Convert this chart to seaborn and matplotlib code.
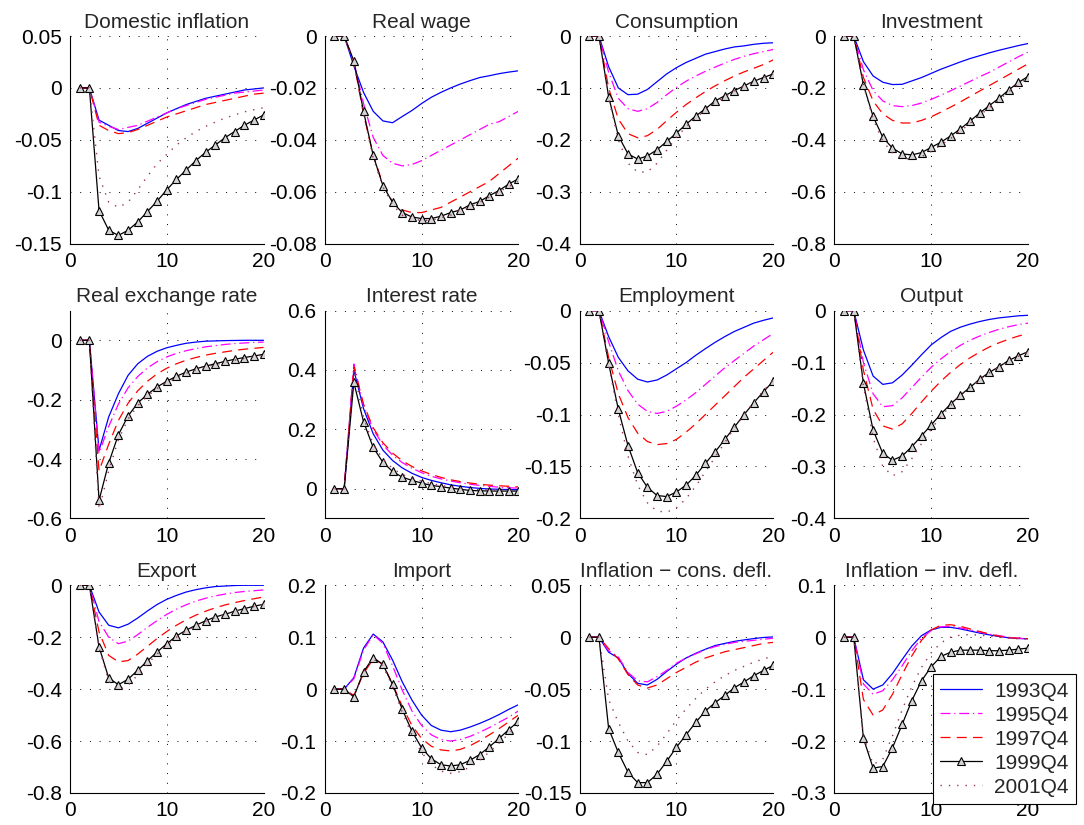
import matplotlib
matplotlib.use("Agg")
import matplotlib.pyplot as plt
import seaborn as sns

# ---------------- data (x = 1..20 quarters) ----------------
QUARTERS = list(range(1, 21))
SERIES_LABELS = ["1993Q4", "1995Q4", "1997Q4", "1999Q4", "2001Q4"]

TITLES = ["Domestic inflation", "Real wage", "Consumption", "Investment",
          "Real exchange rate", "Interest rate", "Employment", "Output",
          "Export", "Import", "Inflation \u2212 cons. defl.", "Inflation \u2212 inv. defl."]

DOMESTIC_INFLATION = [
    [0, 0, -0.031, -0.036, -0.041, -0.042, -0.039, -0.034, -0.029, -0.024, -0.020, -0.016, -0.013, -0.010, -0.008, -0.006, -0.004, -0.002, -0.001, 0.000],
    [0, 0, -0.033, -0.037, -0.040, -0.038, -0.036, -0.032, -0.028, -0.024, -0.020, -0.017, -0.014, -0.011, -0.009, -0.007, -0.005, -0.004, -0.003, -0.002],
    [0, 0, -0.036, -0.041, -0.044, -0.043, -0.040, -0.036, -0.032, -0.028, -0.025, -0.022, -0.019, -0.016, -0.014, -0.012, -0.010, -0.008, -0.006, -0.005],
    [0, 0, -0.118, -0.137, -0.142, -0.137, -0.129, -0.119, -0.109, -0.098, -0.088, -0.079, -0.070, -0.062, -0.055, -0.048, -0.042, -0.036, -0.031, -0.026],
    [0, 0, -0.085, -0.110, -0.115, -0.110, -0.098, -0.085, -0.073, -0.064, -0.055, -0.048, -0.042, -0.037, -0.033, -0.029, -0.026, -0.023, -0.021, -0.019],
]
REAL_WAGE = [
    [0, 0, -0.0115, -0.0217, -0.029, -0.0327, -0.0334, -0.031, -0.0287, -0.026, -0.0236, -0.0217, -0.020, -0.0185, -0.0172, -0.016, -0.0153, -0.0145, -0.0139, -0.0134],
    [0, 0, -0.010, -0.026, -0.039, -0.046, -0.049, -0.050, -0.0495, -0.048, -0.046, -0.044, -0.042, -0.040, -0.038, -0.036, -0.034, -0.033, -0.031, -0.029],
    [0, 0, -0.010, -0.030, -0.046, -0.057, -0.064, -0.067, -0.068, -0.068, -0.067, -0.066, -0.064, -0.062, -0.060, -0.058, -0.056, -0.053, -0.050, -0.047],
    [0, 0, -0.0096, -0.029, -0.046, -0.0576, -0.064, -0.068, -0.0697, -0.0703, -0.0703, -0.0694, -0.068, -0.067, -0.065, -0.0637, -0.0615, -0.0595, -0.057, -0.055],
    [0, 0, -0.010, -0.030, -0.047, -0.058, -0.065, -0.069, -0.0705, -0.071, -0.071, -0.070, -0.069, -0.067, -0.066, -0.064, -0.062, -0.060, -0.058, -0.056],
]
CONSUMPTION = [
    [0, 0, -0.059, -0.100, -0.113, -0.112, -0.103, -0.088, -0.073, -0.061, -0.051, -0.043, -0.035, -0.030, -0.025, -0.021, -0.019, -0.016, -0.014, -0.013],
    [0, 0, -0.070, -0.120, -0.140, -0.145, -0.140, -0.128, -0.113, -0.099, -0.087, -0.077, -0.068, -0.060, -0.052, -0.045, -0.039, -0.034, -0.030, -0.026],
    [0, 0, -0.100, -0.160, -0.188, -0.196, -0.192, -0.180, -0.163, -0.147, -0.132, -0.119, -0.107, -0.096, -0.086, -0.077, -0.069, -0.062, -0.055, -0.046],
    [0, 0, -0.117, -0.192, -0.227, -0.237, -0.231, -0.219, -0.203, -0.187, -0.170, -0.154, -0.140, -0.125, -0.115, -0.105, -0.096, -0.087, -0.080, -0.073],
    [0, 0, -0.120, -0.200, -0.245, -0.262, -0.262, -0.245, -0.220, -0.195, -0.175, -0.158, -0.142, -0.128, -0.117, -0.106, -0.096, -0.087, -0.080, -0.074],
]
INVESTMENT = [
    [0, 0, -0.099, -0.154, -0.178, -0.187, -0.186, -0.173, -0.160, -0.144, -0.128, -0.114, -0.100, -0.087, -0.076, -0.065, -0.055, -0.046, -0.037, -0.029],
    [0, 0, -0.130, -0.210, -0.250, -0.268, -0.272, -0.268, -0.258, -0.244, -0.228, -0.211, -0.193, -0.175, -0.157, -0.140, -0.120, -0.100, -0.080, -0.062],
    [0, 0, -0.160, -0.250, -0.300, -0.325, -0.335, -0.335, -0.325, -0.311, -0.293, -0.274, -0.254, -0.233, -0.212, -0.191, -0.170, -0.149, -0.128, -0.107],
    [0, 0, -0.188, -0.310, -0.390, -0.432, -0.454, -0.458, -0.449, -0.429, -0.409, -0.385, -0.358, -0.328, -0.297, -0.268, -0.240, -0.208, -0.179, -0.156],
    [0, 0, -0.190, -0.320, -0.405, -0.450, -0.470, -0.475, -0.465, -0.445, -0.420, -0.395, -0.367, -0.337, -0.306, -0.276, -0.246, -0.215, -0.186, -0.160],
]
REAL_EXCHANGE_RATE = [
    [0, 0, -0.371, -0.258, -0.180, -0.118, -0.079, -0.054, -0.037, -0.025, -0.017, -0.010, -0.006, -0.003, -0.002, -0.001, -0.0005, 0.000, 0.000, 0.000],
    [0, 0, -0.380, -0.290, -0.215, -0.160, -0.122, -0.093, -0.072, -0.056, -0.044, -0.035, -0.028, -0.022, -0.018, -0.014, -0.011, -0.009, -0.007, -0.006],
    [0, 0, -0.440, -0.350, -0.270, -0.212, -0.170, -0.138, -0.113, -0.094, -0.079, -0.067, -0.058, -0.050, -0.044, -0.039, -0.034, -0.030, -0.027, -0.024],
    [0, 0, -0.539, -0.413, -0.318, -0.255, -0.211, -0.182, -0.157, -0.138, -0.121, -0.107, -0.096, -0.087, -0.079, -0.071, -0.064, -0.058, -0.053, -0.047],
    [0, 0, -0.570, -0.440, -0.335, -0.265, -0.220, -0.188, -0.162, -0.142, -0.125, -0.111, -0.100, -0.090, -0.082, -0.074, -0.067, -0.061, -0.055, -0.050],
]
INTEREST_RATE = [
    [0, 0, 0.400, 0.270, 0.185, 0.130, 0.095, 0.070, 0.052, 0.038, 0.028, 0.020, 0.013, 0.008, 0.004, 0.001, -0.001, -0.002, -0.003, -0.003],
    [0, 0, 0.420, 0.280, 0.200, 0.148, 0.113, 0.088, 0.069, 0.054, 0.042, 0.033, 0.026, 0.020, 0.015, 0.011, 0.008, 0.005, 0.003, 0.002],
    [0, 0, 0.410, 0.285, 0.205, 0.155, 0.120, 0.094, 0.075, 0.060, 0.048, 0.038, 0.030, 0.024, 0.019, 0.015, 0.012, 0.010, 0.008, 0.006],
    [0, 0, 0.358, 0.226, 0.139, 0.089, 0.058, 0.039, 0.028, 0.019, 0.011, 0.007, 0.002, -0.002, -0.006, -0.007, -0.008, -0.008, -0.008, -0.008],
    [0, 0, 0.400, 0.240, 0.150, 0.100, 0.068, 0.048, 0.035, 0.025, 0.017, 0.011, 0.006, 0.002, -0.001, -0.003, -0.004, -0.005, -0.005, -0.005],
]
EMPLOYMENT = [
    [0, 0, -0.025, -0.045, -0.058, -0.066, -0.0687, -0.0668, -0.062, -0.056, -0.050, -0.043, -0.0366, -0.0305, -0.025, -0.020, -0.016, -0.012, -0.0093, -0.007],
    [0, 0, -0.030, -0.058, -0.077, -0.090, -0.097, -0.099, -0.097, -0.092, -0.086, -0.079, -0.071, -0.063, -0.055, -0.048, -0.041, -0.034, -0.028, -0.022],
    [0, 0, -0.045, -0.080, -0.103, -0.118, -0.126, -0.129, -0.128, -0.124, -0.117, -0.109, -0.100, -0.091, -0.082, -0.073, -0.064, -0.056, -0.048, -0.040],
    [0, 0, -0.0507, -0.095, -0.130, -0.156, -0.170, -0.178, -0.179, -0.1746, -0.168, -0.1586, -0.147, -0.136, -0.124, -0.112, -0.100, -0.0886, -0.078, -0.068],
    [0, 0, -0.052, -0.100, -0.140, -0.168, -0.185, -0.193, -0.194, -0.190, -0.181, -0.169, -0.155, -0.141, -0.127, -0.113, -0.100, -0.088, -0.077, -0.067],
]
OUTPUT = [
    [0, 0, -0.076, -0.126, -0.142, -0.139, -0.124, -0.105, -0.085, -0.066, -0.052, -0.040, -0.032, -0.026, -0.021, -0.017, -0.014, -0.012, -0.010, -0.009],
    [0, 0, -0.100, -0.160, -0.185, -0.183, -0.168, -0.148, -0.128, -0.109, -0.093, -0.079, -0.067, -0.057, -0.049, -0.042, -0.036, -0.031, -0.027, -0.024],
    [0, 0, -0.115, -0.190, -0.222, -0.228, -0.218, -0.198, -0.176, -0.155, -0.136, -0.119, -0.104, -0.091, -0.080, -0.070, -0.062, -0.055, -0.049, -0.044],
    [0, 0, -0.140, -0.230, -0.275, -0.288, -0.280, -0.262, -0.241, -0.220, -0.199, -0.180, -0.163, -0.148, -0.132, -0.119, -0.108, -0.096, -0.087, -0.079],
    [0, 0, -0.145, -0.245, -0.300, -0.318, -0.310, -0.285, -0.256, -0.228, -0.204, -0.183, -0.164, -0.148, -0.133, -0.120, -0.108, -0.097, -0.088, -0.080],
]
EXPORT = [
    [0, 0, -0.103, -0.154, -0.164, -0.150, -0.126, -0.099, -0.074, -0.054, -0.039, -0.026, -0.017, -0.010, -0.005, -0.003, -0.001, 0.000, 0.000, 0.000],
    [0, 0, -0.140, -0.200, -0.225, -0.215, -0.190, -0.162, -0.136, -0.112, -0.092, -0.075, -0.061, -0.050, -0.041, -0.034, -0.028, -0.024, -0.021, -0.018],
    [0, 0, -0.180, -0.270, -0.295, -0.290, -0.265, -0.235, -0.205, -0.178, -0.154, -0.133, -0.115, -0.100, -0.087, -0.076, -0.067, -0.059, -0.052, -0.045],
    [0, 0, -0.237, -0.357, -0.383, -0.362, -0.327, -0.291, -0.257, -0.225, -0.195, -0.173, -0.154, -0.137, -0.122, -0.112, -0.100, -0.090, -0.081, -0.073],
    [0, 0, -0.240, -0.370, -0.405, -0.385, -0.345, -0.303, -0.265, -0.230, -0.200, -0.176, -0.156, -0.139, -0.124, -0.112, -0.101, -0.091, -0.082, -0.074],
]
IMPORT = [
    [0, 0, 0.022, 0.079, 0.106, 0.091, 0.056, 0.014, -0.021, -0.050, -0.070, -0.079, -0.082, -0.079, -0.073, -0.066, -0.058, -0.049, -0.039, -0.030],
    [0, 0, 0.020, 0.075, 0.105, 0.088, 0.045, -0.002, -0.042, -0.070, -0.088, -0.097, -0.100, -0.097, -0.091, -0.083, -0.074, -0.064, -0.054, -0.042],
    [0, 0, -0.012, 0.030, 0.058, 0.048, 0.010, -0.033, -0.070, -0.095, -0.110, -0.117, -0.119, -0.116, -0.109, -0.099, -0.088, -0.076, -0.063, -0.050],
    [0, 0, -0.015, 0.0335, 0.0606, 0.0477, 0.009, -0.0387, -0.081, -0.113, -0.134, -0.1456, -0.148, -0.1456, -0.137, -0.126, -0.111, -0.095, -0.078, -0.062],
    [0, 0, -0.015, 0.032, 0.058, 0.045, 0.005, -0.044, -0.088, -0.122, -0.145, -0.158, -0.162, -0.159, -0.150, -0.137, -0.121, -0.104, -0.086, -0.069],
]
INFLATION_CONS = [
    [0, 0, -0.0145, -0.020, -0.035, -0.0444, -0.046, -0.0406, -0.033, -0.026, -0.020, -0.0155, -0.0116, -0.008, -0.006, -0.004, -0.0026, -0.0013, -0.0003, 0.0003],
    [0, 0, -0.013, -0.019, -0.034, -0.042, -0.043, -0.038, -0.032, -0.025, -0.020, -0.016, -0.012, -0.009, -0.007, -0.005, -0.004, -0.003, -0.002, -0.001],
    [0, 0, -0.011, -0.021, -0.036, -0.046, -0.049, -0.046, -0.040, -0.034, -0.029, -0.024, -0.020, -0.017, -0.014, -0.012, -0.010, -0.008, -0.006, -0.005],
    [0, 0, -0.088, -0.111, -0.130, -0.140, -0.140, -0.132, -0.1195, -0.106, -0.094, -0.082, -0.071, -0.063, -0.056, -0.0486, -0.043, -0.037, -0.032, -0.027],
    [0, 0, -0.060, -0.082, -0.100, -0.111, -0.113, -0.105, -0.093, -0.080, -0.069, -0.059, -0.050, -0.043, -0.037, -0.032, -0.028, -0.024, -0.021, -0.018],
]
INFLATION_INV = [
    [0, 0, -0.082, -0.100, -0.092, -0.070, -0.043, -0.017, 0.003, 0.014, 0.019, 0.019, 0.016, 0.012, 0.008, 0.0045, 0.0013, -0.001, -0.0026, -0.003],
    [0, 0, -0.090, -0.110, -0.103, -0.082, -0.055, -0.026, -0.002, 0.013, 0.020, 0.021, 0.018, 0.014, 0.010, 0.006, 0.003, 0.000, -0.002, -0.003],
    [0, 0, -0.120, -0.150, -0.140, -0.110, -0.072, -0.036, -0.006, 0.014, 0.023, 0.024, 0.021, 0.016, 0.011, 0.006, 0.002, -0.001, -0.002, -0.003],
    [0, 0, -0.195, -0.252, -0.249, -0.213, -0.168, -0.122, -0.084, -0.057, -0.037, -0.029, -0.025, -0.025, -0.025, -0.026, -0.026, -0.025, -0.023, -0.021],
    [0, 0, -0.190, -0.245, -0.235, -0.190, -0.140, -0.095, -0.058, -0.030, -0.011, 0.000, 0.004, 0.005, 0.004, 0.002, 0.000, -0.002, -0.003, -0.004],
]

PANELS = [DOMESTIC_INFLATION, REAL_WAGE, CONSUMPTION, INVESTMENT,
          REAL_EXCHANGE_RATE, INTEREST_RATE, EMPLOYMENT, OUTPUT,
          EXPORT, IMPORT, INFLATION_CONS, INFLATION_INV]

Y_LIMITS = [(-0.15, 0.05), (-0.08, 0.0), (-0.4, 0.0), (-0.8, 0.0),
            (-0.6, 0.1), (-0.1, 0.6), (-0.2, 0.0), (-0.4, 0.0),
            (-0.8, 0.0), (-0.2, 0.2), (-0.15, 0.05), (-0.3, 0.1)]
Y_TICKS = [[-0.15, -0.1, -0.05, 0, 0.05], [-0.08, -0.06, -0.04, -0.02, 0],
           [-0.4, -0.3, -0.2, -0.1, 0], [-0.8, -0.6, -0.4, -0.2, 0],
           [-0.6, -0.4, -0.2, 0], [0, 0.2, 0.4, 0.6], [-0.2, -0.15, -0.1, -0.05, 0],
           [-0.4, -0.3, -0.2, -0.1, 0], [-0.8, -0.6, -0.4, -0.2, 0],
           [-0.2, -0.1, 0, 0.1, 0.2], [-0.15, -0.1, -0.05, 0, 0.05], [-0.3, -0.2, -0.1, 0, 0.1]]
X_TICKS = [0, 10, 20]

# ---------------- styles ----------------
STYLES = [
    dict(color="#0000ff", linestyle="-", lw=0.9),
    dict(color="#ff00ff", linestyle=(0, (8, 3, 1, 3)), lw=0.9),
    dict(color="#ff0000", linestyle=(0, (8, 5)), lw=0.9),
    dict(color="#000000", linestyle="-", lw=0.9, marker="^", markersize=6.3,
         markerfacecolor="#d4d4d4", markeredgecolor="#000000", markeredgewidth=0.8),
    dict(color="#993366", linestyle=(0, (1, 5)), lw=1.0),
]

sns.set_style("white")
plt.rcParams["font.family"] = ["Liberation Sans", "DejaVu Sans"]
plt.rcParams["font.size"] = 15
plt.rcParams["axes.unicode_minus"] = True

fig, axes = plt.subplots(3, 4, figsize=(10.84, 8.25), dpi=100)
fig.subplots_adjust(left=70 / 1084, right=1028 / 1084, top=1 - 36 / 825,
                    bottom=1 - 793 / 825, wspace=0.316, hspace=0.322)

for idx, ax in enumerate(axes.flat):
    data = PANELS[idx]
    for s, (series, label) in enumerate(zip(data, SERIES_LABELS)):
        sns.lineplot(x=QUARTERS, y=series, ax=ax, label=label,
                     estimator=None, sort=False, **STYLES[s])
    if ax.get_legend() is not None:
        ax.get_legend().remove()
    ax.set_xlim(0, 20)
    ax.set_ylim(*Y_LIMITS[idx])
    ax.set_xticks(X_TICKS)
    ax.set_yticks(Y_TICKS[idx])
    ax.set_yticklabels([("%g" % v) for v in Y_TICKS[idx]])
    ax.set_xlabel("")
    ax.set_ylabel("")
    ax.set_title(TITLES[idx], fontsize=15, pad=6)
    ax.grid(True, color="black", linestyle=(0, (1, 9)), linewidth=0.7)
    ax.set_axisbelow(True)
    for side in ("top", "right"):
        ax.spines[side].set_visible(False)
    for side in ("left", "bottom"):
        ax.spines[side].set_color("black")
        ax.spines[side].set_linewidth(0.8)
    ax.tick_params(direction="in", length=3, width=0.6, labelsize=15,
                   colors="black", pad=6)

handles, labels = axes.flat[-1].get_legend_handles_labels()
leg = fig.legend(handles, labels, loc="lower left",
                 bbox_to_anchor=(933 / 1084, 1 - 804 / 825),
                 fontsize=15, frameon=True, fancybox=False, edgecolor="black",
                 framealpha=1, borderpad=0.35, labelspacing=0.24,
                 handlelength=2.0, handletextpad=0.6, borderaxespad=0)
leg.get_frame().set_linewidth(0.8)

fig.savefig("out.png", dpi=100, facecolor="white")
